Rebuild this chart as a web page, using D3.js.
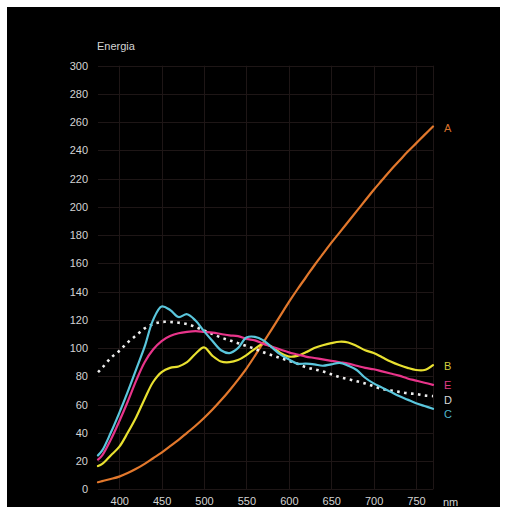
<!DOCTYPE html>
<html>
<head>
<meta charset="utf-8">
<script src="https://cdn.jsdelivr.net/npm/d3@7/dist/d3.min.js"></script>
<style>
  html, body { margin: 0; padding: 0; background: #ffffff; }
  svg { display: block; }
  text { font-family: "Liberation Sans", Arial, sans-serif; }
</style>
</head>
<body>
<svg id="chart" width="509" height="513"></svg>
<script>
// Wavelength grid (nm)
const wavelengths = [375, 380, 390, 400, 410, 420, 430, 440, 450, 460, 470, 480, 490, 500,
  510, 520, 530, 540, 550, 560, 570, 580, 590, 600, 610, 620, 630, 640, 650, 660, 670,
  680, 690, 700, 710, 720, 730, 740, 750, 760, 770];

// Relative spectral energy of each illuminant
const seriesA = [5, 5.8, 7.3, 9, 11.5, 14.5, 18, 22, 26, 30.5, 35, 40, 45, 50.5,
  56.5, 63, 70, 77.5, 85.5, 94.5, 104, 113.5, 123, 132.5, 141.5, 150, 158.5, 166.5, 174.5, 182, 189.5,
  197, 204.5, 212, 219, 226, 232.5, 239, 245, 251, 257];
const seriesB = [16.5, 18, 24, 30, 40, 51, 64, 76, 83, 86, 87, 90, 96, 100.5,
  94.5, 90.5, 90, 91.5, 95, 99.5, 103, 101, 96.5, 94, 94.5, 97, 100, 102, 103.5, 104.5, 104,
  101.5, 98.5, 96.5, 93.5, 90.5, 88, 86, 84.5, 84.5, 88];
const seriesC = [24, 27.5, 40, 54, 69, 85, 101, 120, 129.5, 127, 122, 124, 119.5, 112,
  105, 98.5, 96.5, 100, 107.5, 108, 105.5, 100.5, 95.5, 92, 89, 89, 88.5, 87.5, 88.5, 89.5, 87.5,
  84.5, 79, 75, 72, 69, 66, 63.5, 61, 59, 57];
const seriesD = [83, 86, 93, 98, 104, 109, 114, 117, 118.5, 118.5, 118, 117, 115, 112.5,
  110, 107.5, 105.5, 103.5, 101.5, 99.5, 97, 95, 93, 91, 89, 86.5, 85, 83.5, 81.5, 79.5, 78,
  76.5, 75, 73, 71, 70, 69, 68, 67.5, 66.5, 66];
const seriesE = [21, 24, 35, 48, 62, 77, 90, 99, 105, 108.5, 110.5, 111.5, 112, 111.5,
  111, 110, 109, 108.5, 106.5, 105.5, 103, 101, 99, 97, 95.5, 94, 93, 92, 91, 90, 89,
  87.5, 86, 85, 83.5, 82, 80.5, 78.5, 77, 75.5, 74];

const xTicks = [400, 450, 500, 550, 600, 650, 700, 750];
const yTicks = [0, 20, 40, 60, 80, 100, 120, 140, 160, 180, 200, 220, 240, 260, 280, 300];

const series = [
  { name: "A", values: seriesA, color: "#e2782c", dotted: false, labelValue: 256 },
  { name: "B", values: seriesB, color: "#e8e030", dotted: false, labelValue: 87.5 },
  { name: "E", values: seriesE, color: "#e8348a", dotted: false, labelValue: 74 },
  { name: "D", values: seriesD, color: "#eeeeee", dotted: true, labelValue: 63 },
  { name: "C", values: seriesC, color: "#5ac6dc", dotted: false, labelValue: 53 }
];
const labelColors = { A: "#d8702a", B: "#d2cc3c", E: "#e03a86", D: "#d8d8d8", C: "#50b8cc" };

const svg = d3.select("#chart");

svg.append("rect")
  .attr("x", 7).attr("y", 7)
  .attr("width", 493).attr("height", 500)
  .attr("fill", "#000000");

const x = d3.scaleLinear().domain([375, 770]).range([98, 433]);
const y = d3.scaleLinear().domain([0, 300]).range([489.3, 65.7]);

// Grid
const grid = svg.append("g").attr("stroke", "#1e1616").attr("stroke-width", 1);
grid.selectAll("line.h").data(yTicks).join("line")
  .attr("x1", x(375)).attr("x2", x(770))
  .attr("y1", d => Math.round(y(d)) + 0.5).attr("y2", d => Math.round(y(d)) + 0.5);
grid.selectAll("line.v").data(xTicks.concat([770])).join("line")
  .attr("y1", y(300)).attr("y2", y(0))
  .attr("x1", d => Math.round(x(d)) + 0.5).attr("x2", d => Math.round(x(d)) + 0.5);

// Axes (labels only)
const yAxis = d3.axisLeft(y).tickValues(yTicks).tickSize(0).tickPadding(0);
const gy = svg.append("g").attr("transform", "translate(88,0)").call(yAxis);
gy.select(".domain").remove();
gy.selectAll("text").attr("fill", "#d4d4d4").attr("font-size", 11)
  .attr("font-family", "Liberation Sans, Arial, sans-serif");

const xAxis = d3.axisBottom(x).tickValues(xTicks).tickSize(0).tickPadding(0);
const gx = svg.append("g").attr("transform", "translate(0,497)").call(xAxis);
gx.select(".domain").remove();
gx.selectAll("text").attr("fill", "#d4d4d4").attr("font-size", 11)
  .attr("font-family", "Liberation Sans, Arial, sans-serif");

svg.append("text").attr("x", 97).attr("y", 50)
  .attr("fill", "#d4d4d4").attr("font-size", 11).text("Energia");
svg.append("text").attr("x", 443).attr("y", 506)
  .attr("fill", "#d4d4d4").attr("font-size", 11).text("nm");

// Curves
const line = d3.line()
  .x(d => x(d[0]))
  .y(d => y(d[1]))
  .curve(d3.curveCatmullRom.alpha(0.5));

const order = ["A", "D", "B", "E", "C"];
order.forEach(n => {
  const s = series.find(t => t.name === n);
  const pts = wavelengths.map((w, i) => [w, s.values[i]]);
  const p = svg.append("path")
    .attr("d", line(pts))
    .attr("fill", "none")
    .attr("stroke", s.color);
  if (s.dotted) {
    p.attr("stroke-width", 2.6).attr("stroke-dasharray", "2.6 4.4");
  } else {
    p.attr("stroke-width", 2.2).attr("stroke-linejoin", "round").attr("stroke-linecap", "round");
  }
});

// Series labels
series.forEach(s => {
  svg.append("text")
    .attr("x", 444)
    .attr("y", y(s.labelValue))
    .attr("dy", "0.35em")
    .attr("fill", labelColors[s.name])
    .attr("font-size", 11)
    .text(s.name);
});
</script>
</body>
</html>
